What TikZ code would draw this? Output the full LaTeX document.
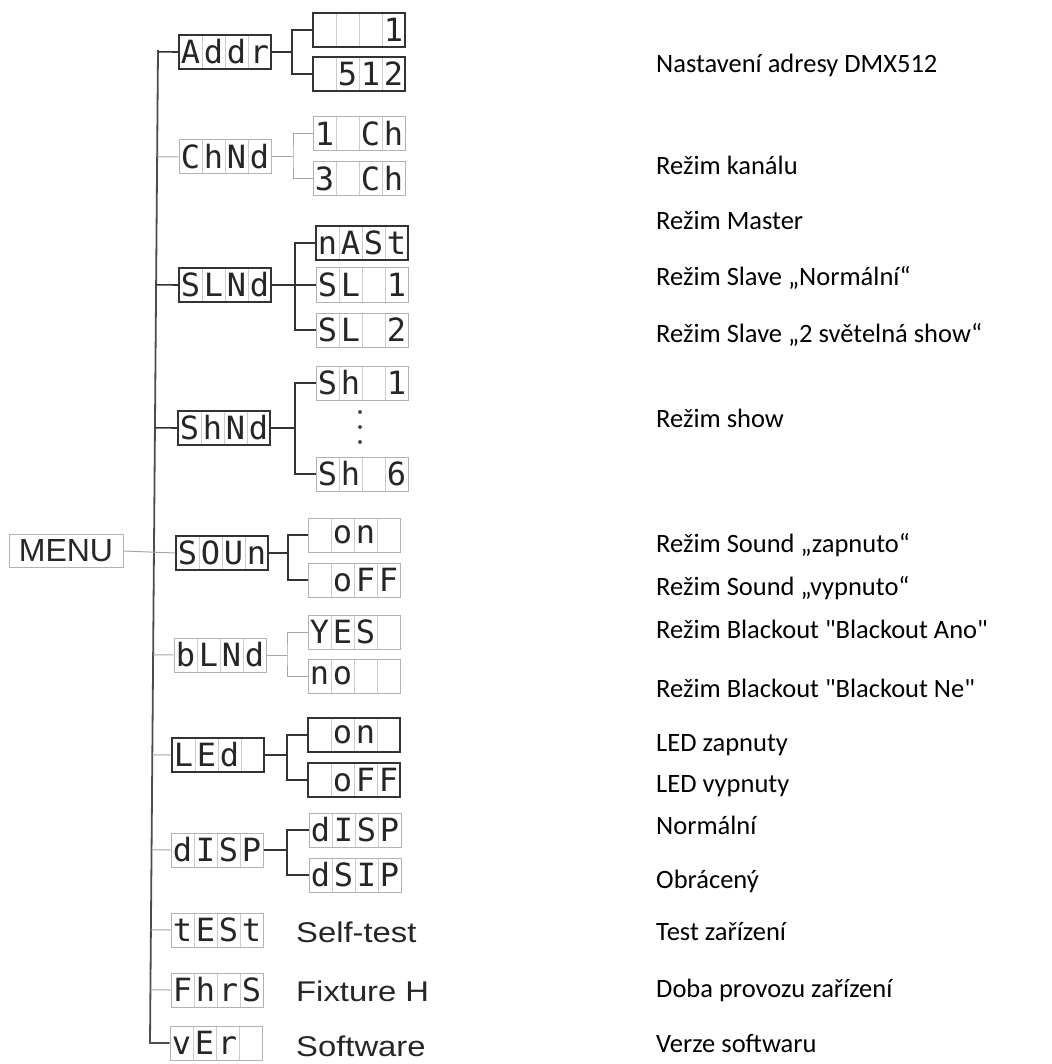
\documentclass[tikz,border=0pt]{standalone}
\usepackage{fontspec}
\usetikzlibrary{calc}
\newfontfamily\lcdfont{DejaVu Sans Mono}
\newfontfamily\arialf[FakeStretch=1.15]{Liberation Sans}
\newfontfamily\menuf{Liberation Sans}
\newfontfamily\rfont[Ligatures=TeXOff]{Carlito}
\newlength\cw \setlength\cw{23pt}
\newcommand\lcd[4]{\makebox[\cw][c]{#1}\makebox[\cw][c]{#2}\makebox[\cw][c]{#3}\makebox[\cw][c]{#4}}
\tikzset{
  lcdbox/.style={inner sep=0pt, minimum height=34pt, minimum width=92pt,
    font=\lcdfont\fontsize{32}{32}\selectfont, text=black!85,
    path picture={\foreach \f in {0.25,0.5,0.75}{\draw[black!20,line width=0.8pt]
      ($(path picture bounding box.south west)!\f!(path picture bounding box.south east)$) --
      ($(path picture bounding box.north west)!\f!(path picture bounding box.north east)$);}}},
  dkbox/.style={lcdbox, draw=black!80, line width=1.6pt},
  ltbox/.style={lcdbox, draw=black!30, line width=1pt},
  dk/.style={draw=black!80, line width=1.6pt},
  lt/.style={draw=black!35, line width=1pt},
  trunk/.style={draw=black!70, line width=1.8pt},
  lbl/.style={font=\arialf\fontsize{28.5}{28.5}\selectfont, text=black!85, inner sep=0pt},
  rt/.style={font=\rfont\fontsize{26.5}{26.5}\selectfont, text=black, inner sep=0pt},
  menubox/.style={draw=black!30, line width=1pt, minimum width=114pt, minimum height=33pt,
    inner sep=0pt, font=\menuf\fontsize{32}{32}\selectfont, text=black!85}
}
\begin{document}
\begin{tikzpicture}[x=1pt,y=-1pt]
\useasboundingbox (0,0) rectangle (1051,1064);

% MENU
\node[menubox] (menu) at (66,551) {MENU};

% level 1
\node[dkbox] (addr) at (225,52) {\lcd{A}{d}{d}{r}};
\node[ltbox] (chnd) at (225,157) {\lcd{C}{h}{N}{d}};
\node[dkbox] (slnd) at (225,285) {\lcd{S}{L}{N}{d}};
\node[dkbox] (shnd) at (224,428) {\lcd{S}{h}{N}{d}};
\node[dkbox] (soun) at (222,553) {\lcd{S}{O}{U}{n}};
\node[ltbox] (blnd) at (220,655) {\lcd{b}{L}{N}{d}};
\node[dkbox] (led)  at (218,755) {\lcd{L}{E}{d}{}};
\node[ltbox] (disp) at (217,850) {\lcd{d}{I}{S}{P}};
\node[ltbox] (test) at (217,930) {\lcd{t}{E}{S}{t}};
\node[ltbox] (fhrs) at (217,990) {\lcd{F}{h}{r}{S}};
\node[ltbox] (ver)  at (216,1043) {\lcd{v}{E}{r}{}};

% level 2
\node[dkbox] (a1) at (359,30) {\lcd{}{}{}{1}};
\node[dkbox] (a2) at (359,74) {\lcd{}{5}{1}{2}};
\node[ltbox] (c1) at (359,134) {\lcd{1}{}{C}{h}};
\node[ltbox] (c2) at (359,179) {\lcd{3}{}{C}{h}};
\node[dkbox] (s1) at (362,243) {\lcd{n}{A}{S}{t}};
\node[ltbox] (s2) at (362,285) {\lcd{S}{L}{}{1}};
\node[ltbox] (s3) at (362,330) {\lcd{S}{L}{}{2}};
\node[ltbox] (h1) at (362,383) {\lcd{S}{h}{}{1}};
\node[ltbox] (h6) at (362,474) {\lcd{S}{h}{}{6}};
\node[ltbox] (o1) at (354,535) {\lcd{}{o}{n}{}};
\node[ltbox] (o2) at (354,580) {\lcd{}{o}{F}{F}};
\node[ltbox] (b1) at (354,632) {\lcd{Y}{E}{S}{}};
\node[ltbox] (b2) at (354,676) {\lcd{n}{o}{}{}};
\node[dkbox] (l1) at (354,735) {\lcd{}{o}{n}{}};
\node[dkbox] (l2) at (354,780) {\lcd{}{o}{F}{F}};
\node[ltbox] (d1) at (355,830) {\lcd{d}{I}{S}{P}};
\node[ltbox] (d2) at (355,875) {\lcd{d}{S}{I}{P}};

% dots
\fill[black!70] (360,412) circle (2);
\fill[black!70] (360,427) circle (2);
\fill[black!70] (360,442) circle (2);

% trunk
\coordinate (ttop) at (158,50);
\coordinate (tbot) at (150,1043);
\draw[trunk] (ttop) -- (tbot) -- (ver.west);
\draw[dk] ($(ttop)!(addr.west)!(tbot)$) -- (addr.west);
\draw[lt] ($(ttop)!(chnd.west)!(tbot)$) -- (chnd.west);
\draw[dk] ($(ttop)!(slnd.west)!(tbot)$) -- (slnd.west);
\draw[dk] ($(ttop)!(shnd.west)!(tbot)$) -- (shnd.west);
\draw[lt] (menu.east) -- (soun.west);
\draw[lt] ($(ttop)!(blnd.west)!(tbot)$) -- (blnd.west);
\draw[lt] ($(ttop)!(led.west)!(tbot)$) -- (led.west);
\draw[lt] ($(ttop)!(disp.west)!(tbot)$) -- (disp.west);
\draw[lt] ($(ttop)!(test.west)!(tbot)$) -- (test.west);
\draw[lt] ($(ttop)!(fhrs.west)!(tbot)$) -- (fhrs.west);

% junctions
\coordinate (ja) at (292,52);
\draw[dk] (addr.east) -- (ja);
\draw[dk] (a1.west) -| (ja) |- (a2.west);
\coordinate (jc) at (293,157);
\draw[lt] (chnd.east) -- (jc);
\draw[lt] (c1.west) -| (jc) |- (c2.west);
\coordinate (js) at (295,285);
\draw[dk] (slnd.east) -- (s2.west);
\draw[dk] (s1.west) -| (js) |- (s3.west);
\coordinate (jh) at (295,428);
\draw[dk] (shnd.east) -- (jh);
\draw[dk] (h1.west) -| (jh) |- (h6.west);
\coordinate (jo) at (288,553);
\draw[dk] (soun.east) -- (jo);
\draw[dk] (o1.west) -| (jo) |- (o2.west);
\coordinate (jb) at (287,655);
\draw[lt] (blnd.east) -- (jb);
\draw[lt] (b1.west) -| (jb) |- (b2.west);
\coordinate (jl) at (287,755);
\draw[dk] (led.east) -- (jl);
\draw[dk] (l1.west) -| (jl) |- (l2.west);
\coordinate (jd) at (287,850);
\draw[dk] (disp.east) -- (jd);
\draw[dk] (d1.west) -| (jd) |- (d2.west);

% side labels
\node[lbl, anchor=base west] (tl) at (296,942) {Self-test};
\node[lbl, anchor=base west] (fl) at (296,1001) {Fixture H};
\node[lbl, anchor=base west] (vl) at (296,1056) {Software};

% right column
\node[rt, anchor=base west] (r1)  at (656,73)  {Nastavení adresy DMX512};
\node[rt, anchor=base west] (r2)  at (656,175) {Režim kanálu};
\node[rt, anchor=base west] (r3)  at (656,230) {Režim Master};
\node[rt, anchor=base west] (r4)  at (656,286) {Režim Slave „Normální“};
\node[rt, anchor=base west] (r5)  at (656,342) {Režim Slave „2 světelná show“};
\node[rt, anchor=base west] (r6)  at (656,427) {Režim show};
\node[rt, anchor=base west] (r7)  at (656,552) {Režim Sound „zapnuto“};
\node[rt, anchor=base west] (r8)  at (656,595) {Režim Sound „vypnuto“};
\node[rt, anchor=base west] (r9)  at (656,638) {Režim Blackout "Blackout Ano"};
\node[rt, anchor=base west] (r10) at (656,697) {Režim Blackout "Blackout Ne"};
\node[rt, anchor=base west] (r11) at (656,751) {LED zapnuty};
\node[rt, anchor=base west] (r12) at (656,792) {LED vypnuty};
\node[rt, anchor=base west] (r13) at (656,834) {Normální};
\node[rt, anchor=base west] (r14) at (656,888) {Obrácený};
\node[rt, anchor=base west] (r15) at (656,940) {Test zařízení};
\node[rt, anchor=base west] (r16) at (656,997) {Doba provozu zařízení};
\node[rt, anchor=base west] (r17) at (656,1052) {Verze softwaru};
\end{tikzpicture}
\end{document}
